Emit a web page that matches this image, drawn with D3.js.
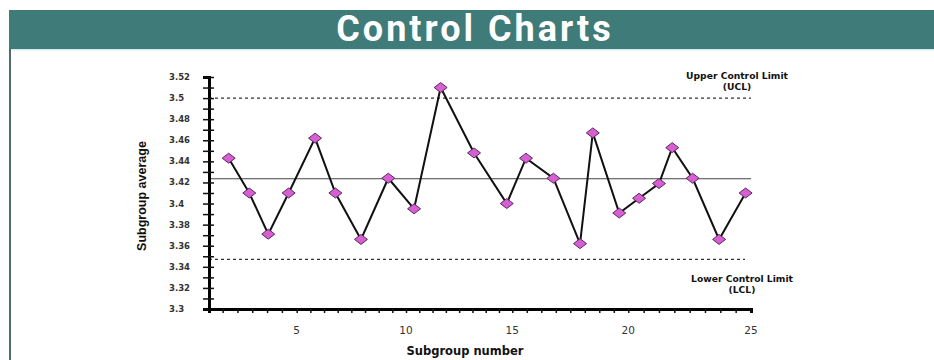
<!DOCTYPE html>
<html><head><meta charset="utf-8">
<script src="https://cdn.jsdelivr.net/npm/d3@7"></script>
<style>body{margin:0;background:#fff}svg{display:block}</style>
</head><body><svg id="c" width="934" height="360"></svg>
<script>
// ---- data ----
const title = "Control Charts";
const subgroup = [2.13, 3.0, 3.8, 4.66, 5.84, 6.77, 7.94, 9.19, 10.38, 11.63, 13.2, 14.74, 15.59, 16.77, 17.92, 18.47, 19.61, 20.44, 21.25, 21.79, 22.62, 23.7, 24.78];
const average  = [3.443, 3.41, 3.371, 3.41, 3.462, 3.41, 3.366, 3.424, 3.395, 3.510, 3.448, 3.400, 3.443, 3.424, 3.362, 3.467, 3.391, 3.405, 3.419, 3.453, 3.424, 3.366, 3.41];
const ucl = 3.5, centerLine = 3.4235, lcl = 3.347;
const xTickLabels = [5, 10, 15, 20, 25];
const yTickLabels = [3.3, 3.32, 3.34, 3.36, 3.38, 3.4, 3.42, 3.44, 3.46, 3.48, 3.5, 3.52];
const uclText = ["Upper Control Limit", "(UCL)"];
const lclText = ["Lower Control Limit", "(LCL)"];
const xTitle = "Subgroup number", yTitle = "Subgroup average";

// ---- layout ----
const svg = d3.select("#c");
const X0 = 209, X1 = 751, Y0 = 309, Y1 = 77;

// banner & frame
svg.append("rect").attr("x", 9).attr("y", 10).attr("width", 925).attr("height", 39).attr("fill", "#3f7b79");
svg.append("rect").attr("x", 9).attr("y", 49).attr("width", 925).attr("height", 1.5).attr("fill", "#d3eeee");
svg.append("rect").attr("x", 9).attr("y", 49).attr("width", 2).attr("height", 311).attr("fill", "#4d6e6d");
svg.append("text").attr("x", 475).attr("y", 41).attr("text-anchor", "middle")
  .attr("font-family", "Roboto").attr("font-weight", 700).attr("font-size", 36)
  .attr("letter-spacing", 3)
  .attr("fill", "#fff").text(title);

// scales
const x = d3.scaleLinear().domain([1.3, 5, 10, 15, 20, 25]).range([X0, 296.7, 406, 512.3, 628.3, X1]);
const y = d3.scaleLinear().domain([3.3, 3.52]).range([Y0, Y1]);

// limit lines
svg.append("line").attr("x1", X0).attr("x2", X1).attr("y1", y(ucl)).attr("y2", y(ucl))
  .attr("stroke", "#333").attr("stroke-width", 1.2).attr("stroke-dasharray", "3,3");
svg.append("line").attr("x1", X0).attr("x2", 745).attr("y1", y(lcl)).attr("y2", y(lcl))
  .attr("stroke", "#333").attr("stroke-width", 1.2).attr("stroke-dasharray", "3,3");
svg.append("line").attr("x1", X0).attr("x2", X1).attr("y1", y(centerLine)).attr("y2", y(centerLine))
  .attr("stroke", "#444").attr("stroke-width", 1);

// y axis
const yMinor = d3.range(0, 23).map(i => +(3.3 + i * 0.01).toFixed(2));
const gy = svg.append("g").attr("transform", `translate(${X0},0)`)
  .call(d3.axisLeft(y).tickValues(yMinor).tickSize(6).tickFormat(""));
gy.select(".domain").attr("stroke", "#000").attr("stroke-width", 3);
gy.selectAll(".tick line").attr("x2", -6).attr("x1", 5).attr("stroke", "#111").attr("stroke-width", 1.5);
svg.append("g").selectAll("text").data(yTickLabels).join("text")
  .attr("x", 169).attr("y", d => y(d)).attr("dy", "0.35em")
  .attr("font-family", "DejaVu Sans").attr("font-weight", 700).attr("font-size", 8.5)
  .attr("fill", "#333").text(d => String(+d.toFixed(2)));

// x axis
const xMinor = d3.range(0, 38).map(i => 25 - i * 0.625);
const gx = svg.append("g").attr("transform", `translate(0,${Y0})`)
  .call(d3.axisBottom(x).tickValues(xMinor).tickSize(4).tickFormat(""));
gx.select(".domain").attr("stroke", "#000").attr("stroke-width", 3);
gx.selectAll(".tick line").attr("stroke", "#111").attr("stroke-width", 1.5);
svg.append("g").selectAll("text").data(xTickLabels).join("text")
  .attr("x", d => x(d)).attr("y", 334).attr("text-anchor", "middle")
  .attr("font-family", "DejaVu Sans").attr("font-size", 10.5)
  .attr("fill", "#333").text(d => d);

// titles
svg.append("text").attr("transform", "translate(146,196) rotate(-90)").attr("text-anchor", "middle")
  .attr("font-family", "Liberation Sans").attr("font-weight", 700).attr("font-size", 12.5)
  .attr("fill", "#111").text(yTitle);
svg.append("text").attr("x", 465).attr("y", 355).attr("text-anchor", "middle")
  .attr("font-family", "DejaVu Sans").attr("font-weight", 700).attr("font-size", 11.5)
  .attr("fill", "#111").text(xTitle);

// limit annotations
function note(lines, cx, by) {
  svg.append("g").selectAll("text").data(lines).join("text")
    .attr("x", cx).attr("y", (d, i) => by + i * 11).attr("text-anchor", "middle")
    .attr("font-family", "DejaVu Sans").attr("font-weight", 700).attr("font-size", 9.2)
    .attr("fill", "#111").text(d => d);
}
note(uclText, 737, 79);
note(lclText, 742, 281.5);

// data line and markers
const pts = subgroup.map((s, i) => [s, average[i]]);
svg.append("path").datum(pts)
  .attr("d", d3.line().x(d => x(d[0])).y(d => y(d[1])))
  .attr("fill", "none").attr("stroke", "#111").attr("stroke-width", 2);
svg.append("g").selectAll("path").data(pts).join("path")
  .attr("transform", d => `translate(${x(d[0])},${y(d[1])})`)
  .attr("d", "M0,-5L6.5,0L0,5L-6.5,0Z")
  .attr("fill", "#d65fd3").attr("stroke", "#5a2a5a").attr("stroke-width", 1);
</script></body></html>
